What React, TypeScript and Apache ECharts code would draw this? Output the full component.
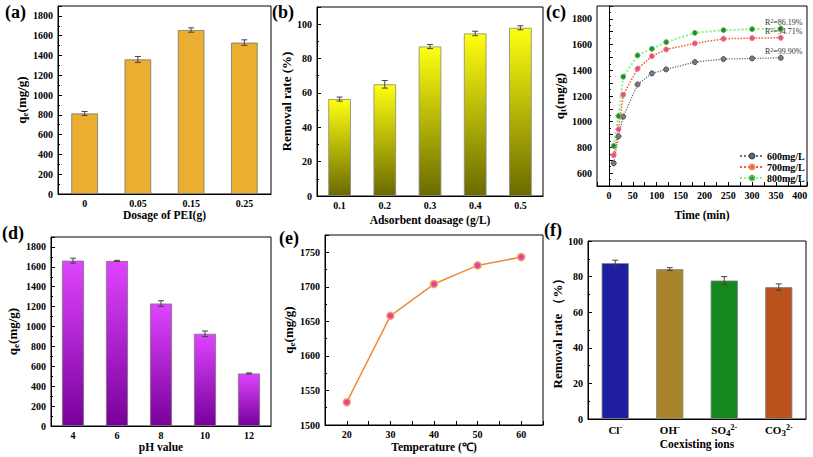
import React, { useEffect, useRef } from "react";
import * as echarts from "echarts";

const FONT = "Liberation Serif";

// (a) effect of PEI dosage
const dosagePEI = ["0", "0.05", "0.15", "0.25"];
const qeDosage = [814, 1360, 1657, 1530];
const qeDosageErr = [20, 30, 22, 28];

// (b) adsorbent dosage
const adsorbentDose = ["0.1", "0.2", "0.3", "0.4", "0.5"];
const removalDose = [56.4, 65, 87, 94.6, 97.9];
const removalDoseErr = [1.2, 2.2, 1.2, 1.3, 1.2];

// (c) kinetics
const times = [10, 20, 30, 60, 90, 120, 180, 240, 300, 360];
const qt600 = [677, 886, 1040, 1290, 1376, 1407, 1464, 1487, 1492, 1497];
const qt700 = [740, 941, 1210, 1412, 1510, 1562, 1609, 1645, 1650, 1653];
const qt800 = [812, 1044, 1350, 1516, 1567, 1619, 1691, 1712, 1720, 1725];
const seriesNames = ["600mg/L", "700mg/L", "800mg/L"];
const r2Values = ["99.90%", "94.71%", "86.19%"];

// (d) pH
const pHValues = ["4", "6", "8", "10", "12"];
const qePH = [1662, 1659, 1231, 927, 528];
const qePHErr = [25, 6, 28, 28, 6];

// (e) temperature
const temps = [20, 30, 40, 50, 60];
const qeTemp = [1533, 1658, 1704, 1731, 1743];

// (f) coexisting ions
const ions = ["Cl-", "OH-", "SO42-", "CO32-"];
const ionRich = ["{n|Cl}{p|-}", "{n|OH}{p|-}", "{n|SO}{b|4}{p|2-}", "{n|CO}{b|3}{p|2-}"];
const removalIons = [87.6, 84.2, 77.8, 74.1];
const removalIonsErr = [1.6, 0.8, 2.2, 1.8];
const ionColors = ["#1E1E9E", "#A8842C", "#14881C", "#B9531B"];

const nameRich = {
  a: { fontFamily: FONT, fontWeight: "bold", fontSize: 13, lineHeight: 15, color: "#000" },
  s: { fontFamily: FONT, fontWeight: "bold", fontSize: 9, lineHeight: 6, verticalAlign: "bottom", color: "#000" },
};

const labelStyle = { color: "#000", fontFamily: FONT, fontWeight: "bold", fontSize: 10, margin: 4 };

function catX(gridIndex: number, data: string[], name: string, nameGap: number, extra: any = {}) {
  return {
    type: "category",
    gridIndex,
    data,
    name,
    nameLocation: "middle",
    nameGap,
    nameTextStyle: { fontFamily: FONT, fontWeight: "bold", fontSize: 11.5, color: "#000" },
    axisLine: { show: true, lineStyle: { color: "#000", width: 1 } },
    axisTick: { show: true, inside: true, length: 4, alignWithLabel: true, lineStyle: { color: "#000" } },
    axisLabel: { ...labelStyle, interval: 0, ...(extra.axisLabel || {}) },
    splitLine: { show: false },
  };
}

function valX(gridIndex: number, min: number, max: number, interval: number, every: number, name: string, nameGap: number) {
  return {
    type: "value",
    gridIndex,
    min,
    max,
    interval,
    name,
    nameLocation: "middle",
    nameGap,
    nameTextStyle: { fontFamily: FONT, fontWeight: "bold", fontSize: 11.5, color: "#000" },
    axisLine: { show: true, lineStyle: { color: "#000", width: 1 } },
    axisTick: { show: true, inside: true, length: 4, lineStyle: { color: "#000" } },
    axisLabel: { ...labelStyle, formatter: (v: number) => (v % every === 0 ? String(v) : "") },
    splitLine: { show: false },
  };
}

function valY(gridIndex: number, min: number, max: number, interval: number, every: number, name: string, nameGap: number) {
  return {
    type: "value",
    gridIndex,
    min,
    max,
    interval,
    name,
    nameLocation: "middle",
    nameRotate: 90,
    nameGap,
    nameTextStyle: { fontFamily: FONT, fontWeight: "bold", fontSize: 13, color: "#000", rich: nameRich },
    axisLine: { show: true, lineStyle: { color: "#000", width: 1 } },
    axisTick: { show: true, inside: true, length: 4, lineStyle: { color: "#000" } },
    minorTick: { show: true, splitNumber: 2, length: 2, lineStyle: { color: "#000" } },
    axisLabel: { ...labelStyle, margin: 5, formatter: (v: number) => (v % every === 0 ? String(v) : "") },
    splitLine: { show: false },
    minorSplitLine: { show: false },
  };
}

function errorSeries(idx: number, values: number[], errs: number[]) {
  return {
    type: "custom",
    xAxisIndex: idx,
    yAxisIndex: idx,
    z: 10,
    data: values.map((v, i) => [i, v - errs[i], v + errs[i]]),
    encode: { x: 0, y: [1, 2] },
    renderItem: (params: any, api: any) => {
      const lo = api.coord([api.value(0), api.value(1)]);
      const hi = api.coord([api.value(0), api.value(2)]);
      const w = 3;
      const style = { stroke: "#444", lineWidth: 1 };
      return {
        type: "group",
        children: [
          { type: "line", shape: { x1: lo[0], y1: lo[1], x2: hi[0], y2: hi[1] }, style },
          { type: "line", shape: { x1: lo[0] - w, y1: lo[1], x2: lo[0] + w, y2: lo[1] }, style },
          { type: "line", shape: { x1: hi[0] - w, y1: hi[1], x2: hi[0] + w, y2: hi[1] }, style },
        ],
      };
    },
  };
}

function kineticSeries(name: string, values: number[], r2: string, lineColor: string, lineWidth: number, fill: string, border: string) {
  const last = values.length - 1;
  return {
    type: "line",
    name,
    xAxisIndex: 2,
    yAxisIndex: 2,
    symbol: "circle",
    symbolSize: 5,
    lineStyle: { color: lineColor, width: lineWidth, type: "dotted" },
    itemStyle: { color: fill, borderColor: border, borderWidth: 1 },
    data: values.map((v, i) =>
      i === last
        ? {
            value: [times[i], v],
            label: {
              show: true,
              position: "top",
              distance: 0,
              offset: [3, 2],
              formatter: "{a|R}{s|2}{a|=" + r2 + "}",
              rich: {
                a: { fontFamily: FONT, fontSize: 8, color: "#333", lineHeight: 10 },
                s: { fontFamily: FONT, fontSize: 6, color: "#333", lineHeight: 5, verticalAlign: "top" },
              },
            },
          }
        : [times[i], v]
    ),
  };
}

const vGrad = (top: string, bottom: string) =>
  new echarts.graphic.LinearGradient(0, 0, 0, 1, [
    { offset: 0, color: top },
    { offset: 1, color: bottom },
  ]);

export default function App() {
  const ref = useRef<HTMLDivElement>(null);
  useEffect(() => {
    if (!ref.current) return;
    const chart = echarts.init(ref.current, null, { renderer: "svg" });
    const gridBase = { show: true, borderColor: "#000", borderWidth: 1, containLabel: false };
    const option: any = {
      animation: false,
      backgroundColor: "#fff",
      grid: [
        { ...gridBase, left: 58, top: 6, width: 213, height: 188 },
        { ...gridBase, left: 317, top: 7, width: 226, height: 189 },
        { ...gridBase, left: 597, top: 6, width: 210, height: 180 },
        { ...gridBase, left: 51, top: 237, width: 220, height: 189 },
        { ...gridBase, left: 325, top: 235, width: 218, height: 190 },
        { ...gridBase, left: 588, top: 241, width: 218, height: 178 },
      ],
      xAxis: [
        catX(0, dosagePEI, "Dosage of PEI(g)", 15),
        catX(1, adsorbentDose, "Adsorbent doasage (g/L)", 18),
        valX(2, -25, 415, 25, 50, "Time (min)", 23),
        catX(3, pHValues, "pH value", 13),
        valX(4, 15, 65, 5, 10, "Temperature (\u2103)", 16),
        catX(5, ions, "Coexisting ions", 19, {
          axisLabel: {
            interval: 0,
            formatter: (_v: string, i: number) => ionRich[i],
            rich: {
              n: { fontFamily: FONT, fontWeight: "bold", fontSize: 11, lineHeight: 14, color: "#000" },
              p: { fontFamily: FONT, fontWeight: "bold", fontSize: 8, lineHeight: 6, verticalAlign: "top", color: "#000" },
              b: { fontFamily: FONT, fontWeight: "bold", fontSize: 9, lineHeight: 7, verticalAlign: "bottom", color: "#000" },
            },
          },
        }),
      ],
      yAxis: [
        valY(0, 0, 1900, 200, 200, "{a|q}{s|e}{a|(mg/g)}", 27),
        valY(1, 0, 110, 20, 20, "Removal rate (%)", 16),
        valY(2, 500, 1900, 100, 200, "{a|q}{s|t}{a|(mg/g)}", 30),
        valY(3, 0, 1900, 200, 200, "{a|q}{s|e}{a|(mg/g)}", 31),
        valY(4, 1500, 1775, 50, 50, "{a|q}{s|e}{a|(mg/g)}", 28),
        valY(5, 0, 100, 20, 20, "Removal rate \uff08%\uff09", 21),
      ],
      legend: {
        data: seriesNames,
        orient: "vertical",
        left: 734,
        top: 146,
        itemGap: 1,
        itemWidth: 24,
        itemHeight: 6,
        textStyle: { fontFamily: FONT, fontWeight: "bold", fontSize: 10, color: "#000", padding: [0, 0, 0, -2] },
      },
      series: [
        {
          type: "bar",
          xAxisIndex: 0,
          yAxisIndex: 0,
          barWidth: "50%",
          data: qeDosage,
          itemStyle: { color: "#EAAE30", borderColor: "#777", borderWidth: 0.8 },
        },
        errorSeries(0, qeDosage, qeDosageErr),
        {
          type: "bar",
          xAxisIndex: 1,
          yAxisIndex: 1,
          barWidth: "50%",
          data: removalDose,
          itemStyle: { color: vGrad("#FFFF10", "#6A6A00"), borderColor: "#888", borderWidth: 0.8 },
        },
        errorSeries(1, removalDose, removalDoseErr),
        kineticSeries(seriesNames[0], qt600, r2Values[0], "#6F6F86", 1.3, "#7A7A86", "#4A4A55"),
        kineticSeries(seriesNames[1], qt700, r2Values[1], "#F0601E", 1.5, "#E045C8", "#F58A3A"),
        kineticSeries(seriesNames[2], qt800, r2Values[2], "#8CF08C", 2, "#1F8A2A", "#5FC060"),
        {
          type: "bar",
          xAxisIndex: 3,
          yAxisIndex: 3,
          barWidth: "50%",
          data: qePH,
          itemStyle: { color: vGrad("#DF44FF", "#78009A"), borderColor: "#777", borderWidth: 0.8 },
        },
        errorSeries(3, qePH, qePHErr),
        {
          type: "line",
          xAxisIndex: 4,
          yAxisIndex: 4,
          symbol: "circle",
          symbolSize: 7,
          lineStyle: { color: "#F08A3A", width: 1.5 },
          itemStyle: { color: "#E03FB2", borderColor: "#F5A050", borderWidth: 1.5 },
          data: temps.map((t, i) => [t, qeTemp[i]]),
        },
        {
          type: "bar",
          xAxisIndex: 5,
          yAxisIndex: 5,
          barWidth: "50%",
          data: removalIons.map((v, i) => ({ value: v, itemStyle: { color: ionColors[i] } })),
          itemStyle: { borderColor: "#888", borderWidth: 0.8 },
        },
        errorSeries(5, removalIons, removalIonsErr),
      ],
      graphic: [
        ["(a)", 5, 3],
        ["(b)", 272, 3],
        ["(c)", 546, 3],
        ["(d)", 2, 224],
        ["(e)", 279, 229],
        ["(f)", 544, 221],
      ].map(([t, x, y]) => ({
        type: "text",
        left: x,
        top: y,
        style: { text: t, fontFamily: FONT, fontWeight: "bold", fontSize: 18, fill: "#000" },
      })),
    };
    chart.setOption(option);
    return () => chart.dispose();
  }, []);
  return (
    <div
      ref={ref}
      style={{ position: "fixed", left: 0, top: 0, width: 813, height: 457, background: "#fff" }}
    />
  );
}
